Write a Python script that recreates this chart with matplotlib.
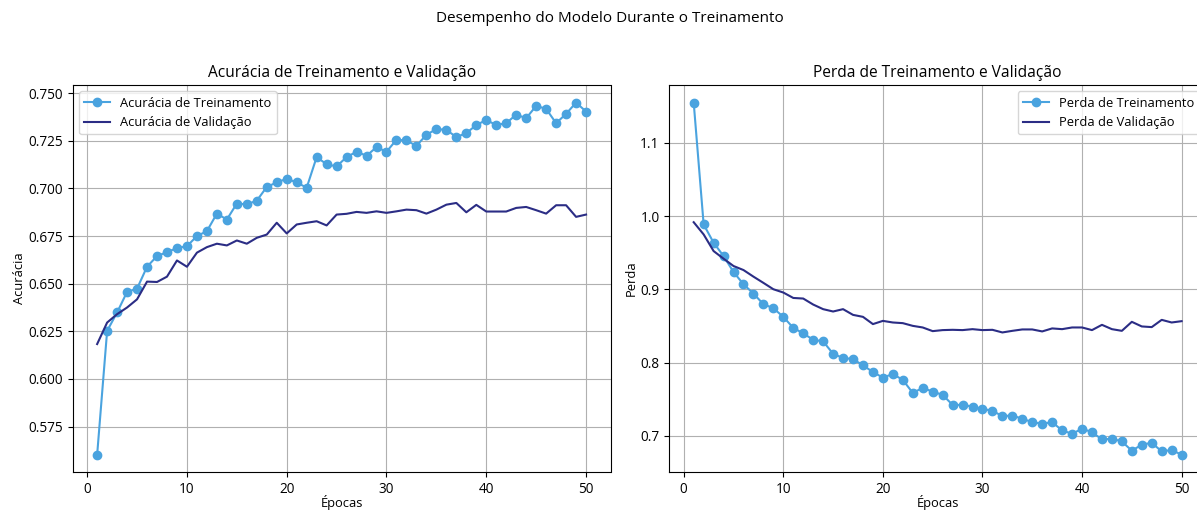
import matplotlib
matplotlib.use("Agg")
import matplotlib.pyplot as plt

plt.rcParams["font.family"] = ["Open Sans", "DejaVu Sans"]
plt.rcParams["font.size"] = 9.3
plt.rcParams["xtick.labelsize"] = 9.8
plt.rcParams["ytick.labelsize"] = 9.8

epochs = list(range(1, 51))

train_acc = [0.5602, 0.6252, 0.6349, 0.6457, 0.6474, 0.6589, 0.6645, 0.6666, 0.6687, 0.6697,
             0.6750, 0.6776, 0.6868, 0.6837, 0.6921, 0.6917, 0.6936, 0.7008, 0.7032, 0.7051,
             0.7032, 0.7004, 0.7165, 0.7127, 0.7116, 0.7165, 0.7193, 0.7172, 0.7217, 0.7193,
             0.7256, 0.7252, 0.7224, 0.7282, 0.7312, 0.7308, 0.7270, 0.7291, 0.7333, 0.7360,
             0.7333, 0.7343, 0.7388, 0.7369, 0.7434, 0.7418, 0.7343, 0.7392, 0.7451, 0.7404]

val_acc = [0.6183, 0.6296, 0.6340, 0.6375, 0.6418, 0.6511, 0.6509, 0.6537, 0.6622, 0.6589,
           0.6663, 0.6692, 0.6710, 0.6701, 0.6727, 0.6710, 0.6741, 0.6758, 0.6820, 0.6764,
           0.6811, 0.6820, 0.6828, 0.6806, 0.6863, 0.6867, 0.6877, 0.6872, 0.6880, 0.6872,
           0.6880, 0.6889, 0.6886, 0.6868, 0.6889, 0.6915, 0.6924, 0.6875, 0.6914, 0.6879,
           0.6879, 0.6879, 0.6898, 0.6903, 0.6886, 0.6868, 0.6912, 0.6912, 0.6851, 0.6863]

train_loss = [1.1551, 0.9887, 0.9638, 0.9456, 0.9238, 0.9071, 0.8944, 0.8799, 0.8744, 0.8626,
              0.8476, 0.8400, 0.8313, 0.8291, 0.8122, 0.8064, 0.8050, 0.7964, 0.7873, 0.7796,
              0.7846, 0.7765, 0.7588, 0.7656, 0.7605, 0.7561, 0.7424, 0.7424, 0.7401, 0.7370,
              0.7343, 0.7271, 0.7279, 0.7234, 0.7189, 0.7166, 0.7189, 0.7075, 0.7030, 0.7098,
              0.7053, 0.6952, 0.6962, 0.6925, 0.6799, 0.6880, 0.6907, 0.6789, 0.6808, 0.6744]

val_loss = [0.9918, 0.9751, 0.9524, 0.9420, 0.9320, 0.9265, 0.9175, 0.9090, 0.9003, 0.8958,
            0.8884, 0.8876, 0.8794, 0.8731, 0.8699, 0.8731, 0.8653, 0.8626, 0.8527, 0.8571,
            0.8549, 0.8540, 0.8503, 0.8481, 0.8431, 0.8445, 0.8449, 0.8445, 0.8458, 0.8445,
            0.8449, 0.8413, 0.8435, 0.8454, 0.8454, 0.8427, 0.8468, 0.8458, 0.8481, 0.8481,
            0.8445, 0.8517, 0.8458, 0.8435, 0.8558, 0.8495, 0.8486, 0.8585, 0.8549, 0.8567]

TRAIN_COLOR = "#4aa3df"
VAL_COLOR = "#2b2d85"

W, H = 1197, 511
fig = plt.figure(figsize=(W / 100, H / 100), dpi=100)

AX_TOP, AX_BOTTOM = 85, 472.3

def px_axes(x0, x1, y0, y1):
    # axes from pixel edges (y measured from the top)
    return fig.add_axes([x0 / W, (H - y1) / H, (x1 - x0) / W, (y1 - y0) / H])

ax1 = px_axes(72.7, 610.5, AX_TOP, AX_BOTTOM)
ax2 = px_axes(669.3, 1206.0, AX_TOP, AX_BOTTOM)

fig.suptitle("Desempenho do Modelo Durante o Treinamento", x=609.5 / W, y=1 - 18 / H,
             va="center", fontsize=11)

# x label sits just above the bottom edge of the figure
xlabel_y = (AX_BOTTOM - 509.5) / (AX_BOTTOM - AX_TOP)

ax1.plot(epochs, train_acc, "o-", color=TRAIN_COLOR, label="Acurácia de Treinamento")
ax1.plot(epochs, val_acc, "-", color=VAL_COLOR, label="Acurácia de Validação")
ax1.set_title("Acurácia de Treinamento e Validação", fontsize=11.2)
ax1.set_xlabel("Épocas", va="bottom")
ax1.xaxis.set_label_coords(0.5, xlabel_y)
ax1.set_ylabel("Acurácia", labelpad=2)
ax1.legend(loc="upper left")
ax1.grid(True)

ax2.plot(epochs, train_loss, "o-", color=TRAIN_COLOR, label="Perda de Treinamento")
ax2.plot(epochs, val_loss, "-", color=VAL_COLOR, label="Perda de Validação")
ax2.set_title("Perda de Treinamento e Validação", fontsize=11.2)
ax2.set_xlabel("Épocas", va="bottom")
ax2.xaxis.set_label_coords(0.5, xlabel_y)
ax2.set_ylabel("Perda", labelpad=2)
ax2.legend(loc="upper right")
ax2.grid(True)

fig.savefig("out.png", dpi=100)
